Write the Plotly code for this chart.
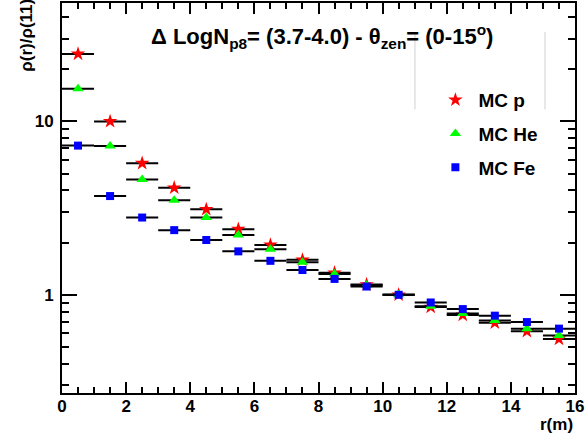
import plotly.graph_objects as go

r = [0.5, 1.5, 2.5, 3.5, 4.5, 5.5, 6.5, 7.5, 8.5, 9.5, 10.5, 11.5, 12.5, 13.5, 14.5, 15.5]
mc_p = [24.5, 10.0, 5.74, 4.14, 3.11, 2.39, 1.94, 1.59, 1.34, 1.146, 1.0, 0.85, 0.765, 0.69, 0.616, 0.556]
mc_he = [15.4, 7.22, 4.63, 3.51, 2.79, 2.21, 1.83, 1.54, 1.32, 1.135, 1.0, 0.86, 0.78, 0.712, 0.638, 0.582]
mc_fe = [7.25, 3.71, 2.79, 2.36, 2.07, 1.78, 1.57, 1.39, 1.235, 1.116, 1.0, 0.903, 0.827, 0.758, 0.696, 0.638]
bin_half = 0.5

FONT = "Liberation Sans, Arial, Helvetica, sans-serif"

fig = go.Figure()
series = [
    ("MC p", mc_p, "star", "#ff0000", 11),
    ("MC He", mc_he, "triangle-up", "#00ff00", 10),
    ("MC Fe", mc_fe, "square", "#0000ff", 8),
]
for name, vals, sym, col, sz in series:
    fig.add_trace(go.Scatter(
        x=r, y=vals, mode="markers", name=name, legendgroup=name,
        marker=dict(symbol=sym, color=col, size=sz, line=dict(width=0)),
        error_x=dict(type="constant", value=bin_half, width=0, thickness=2, color="black"),
    ))

minor_y = [0.3, 0.4, 0.5, 0.6, 0.7, 0.8, 0.9, 2, 3, 4, 5, 6, 7, 8, 9, 20, 30, 40]

fig.update_layout(
    width=585, height=437,
    margin=dict(l=62, r=10, t=1, b=44),
    paper_bgcolor="white", plot_bgcolor="white",
    font=dict(family=FONT, color="black"),
    showlegend=True,
    legend=dict(x=0.722, y=0.80, xanchor="left", yanchor="top",
                font=dict(size=19, family=FONT, weight="bold"),
                bgcolor="rgba(0,0,0,0)", tracegroupgap=6, itemwidth=36),
    xaxis=dict(range=[0, 16], showgrid=False, zeroline=False,
               showline=True, linecolor="black", linewidth=2, mirror="ticks",
               ticks="inside", ticklen=11, tickwidth=1.5, tickcolor="black",
               tickmode="array", tickvals=[0, 2, 4, 6, 8, 10, 12, 14, 16],
               ticktext=["0", "2", "4", "6", "8", "10", "12", "14", "16"],
               tickfont=dict(size=17, family=FONT, weight="bold"),
               ticklabelstandoff=-3,
               minor=dict(ticks="inside", ticklen=6, tickwidth=1.5, tickcolor="black", dtick=0.5)),
    yaxis=dict(type="log", range=[-0.5663, 1.6827], showgrid=False, zeroline=False,
               showline=True, linecolor="black", linewidth=2, mirror="ticks",
               ticks="inside", ticklen=15, tickwidth=1.5, tickcolor="black",
               tickmode="array", tickvals=[1, 10], ticktext=["1", "10"],
               tickfont=dict(size=17, family=FONT, weight="bold"),
               ticklabelstandoff=3,
               minor=dict(ticks="inside", ticklen=7, tickwidth=1.5, tickcolor="black",
                          tickmode="array", tickvals=minor_y)),
)

fig.add_annotation(
    xref="paper", yref="paper", x=0.506, y=0.914, xanchor="center", yanchor="middle",
    text="<b>Δ LogN<sub>p8</sub>= (3.7-4.0) - θ<sub>zen</sub>= (0-15<sup>o</sup>)</b>",
    showarrow=False, font=dict(size=22, family=FONT, color="black"))
fig.add_annotation(
    xref="paper", yref="paper", x=1.0, y=-0.05, xanchor="right", yanchor="top",
    text="<b>r(m)</b>", showarrow=False, font=dict(size=17, family=FONT, color="black"))
fig.add_annotation(
    xref="paper", yref="paper", x=-0.068, y=1.015, xanchor="center", yanchor="top",
    text="<b>ρ(r)/ρ(11)</b>", textangle=-90, showarrow=False,
    font=dict(size=17, family=FONT, color="black"))

for xp in [0.688, 0.9415]:
    fig.add_shape(type="line", xref="paper", yref="paper", x0=xp, x1=xp, y0=0.727, y1=0.926,
                  line=dict(color="#d0d0d0", width=1))

fig.write_html("out.html", config={"displayModeBar": False},
               post_script="document.body.style.margin='0';document.body.style.padding='0';")
